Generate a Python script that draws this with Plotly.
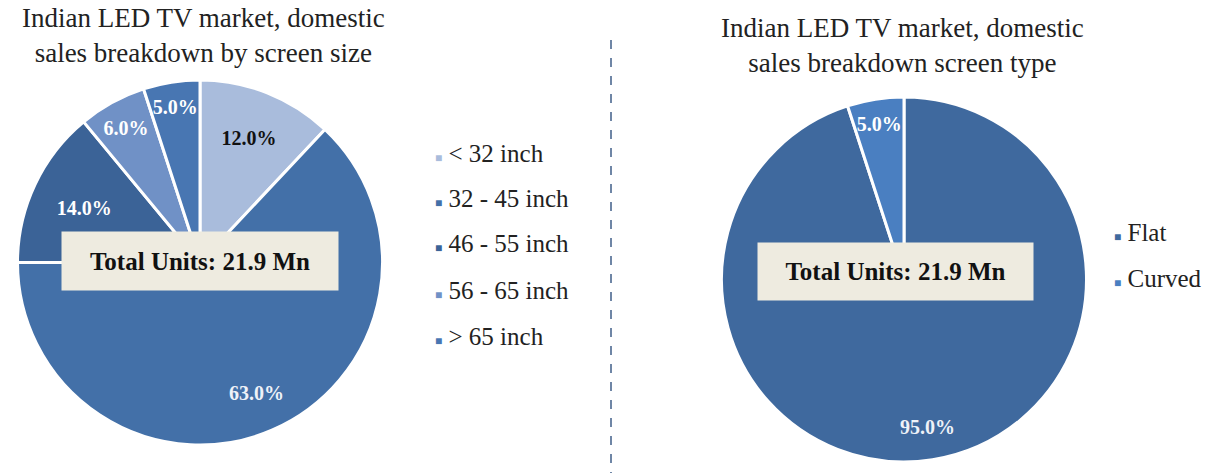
import math
import plotly.graph_objects as go

W, H = 1210, 473

# ---- data ----
size_labels = ["< 32 inch", "32 - 45 inch", "46 - 55 inch", "56 - 65 inch", "> 65 inch"]
size_values = [12.0, 63.0, 14.0, 6.0, 5.0]
size_colors = ["#a9bcdc", "#4370a8", "#3b6397", "#7091c6", "#4876b2"]
size_text_colors = ["#111111", "white", "white", "white", "white"]

type_labels = ["Flat", "Curved"]
type_values = [95.0, 5.0]
type_colors = ["#3f699e", "#4a7fc1"]
type_text_colors = ["white", "white"]

title_left = "Indian LED TV market, domestic<br>sales breakdown by screen size"
title_right = "Indian LED TV market, domestic<br>sales breakdown screen type"
total_text = "Total Units: 21.9 Mn"

FONT = "Liberation Serif, Times New Roman, serif"
LABEL_SIZE = 20


def px(x):
    return x / W


def py(y):
    return 1 - y / H


# pie geometry (pixels)
LEFT = dict(x0=17, x1=383, top=80, bottom=445)
RIGHT = dict(x0=720, x1=1088, top=97, bottom=462)


def templates(values, big=50):
    # large slices get their label as an annotation placed further out
    return ["" if v > big else "<b>%{percent:.1%}</b>" for v in values]


def big_labels(values, colors, geom, frac=0.8, big=50):
    cx = (geom["x0"] + geom["x1"]) / 2
    cy = (geom["top"] + geom["bottom"]) / 2
    r = min(geom["x1"] - geom["x0"], geom["bottom"] - geom["top"]) / 2
    total = sum(values)
    out = []
    cum = 0
    for v, c in zip(values, colors):
        mid = (cum + v / 2) / total * 2 * math.pi
        cum += v
        if v > big:
            x = cx + frac * r * math.sin(mid)
            y = cy - frac * r * math.cos(mid)
            out.append(dict(x=px(x), y=py(y), xref="paper", yref="paper",
                            text=f"<b>{v / total * 100:.1f}%</b>", showarrow=False,
                            font=dict(family=FONT, size=LABEL_SIZE, color=c),
                            xanchor="center", yanchor="middle"))
    return out


fig = go.Figure()

fig.add_trace(go.Pie(
    labels=size_labels, values=size_values, sort=False, direction="clockwise", rotation=0,
    marker=dict(colors=size_colors, line=dict(color="white", width=3)),
    texttemplate=templates(size_values), textposition="inside",
    insidetextorientation="horizontal",
    textfont=dict(family=FONT, size=LABEL_SIZE, color=size_text_colors),
    domain=dict(x=[px(LEFT["x0"]), px(LEFT["x1"])], y=[py(LEFT["bottom"]), py(LEFT["top"])]),
    showlegend=False, hoverinfo="label+percent",
))

fig.add_trace(go.Pie(
    labels=type_labels, values=type_values, sort=False, direction="clockwise", rotation=0,
    marker=dict(colors=type_colors, line=dict(color="white", width=3)),
    texttemplate=templates(type_values), textposition="inside",
    insidetextorientation="horizontal",
    textfont=dict(family=FONT, size=LABEL_SIZE, color=type_text_colors),
    domain=dict(x=[px(RIGHT["x0"]), px(RIGHT["x1"])], y=[py(RIGHT["bottom"]), py(RIGHT["top"])]),
    showlegend=False, hoverinfo="label+percent",
))

annotations = []
annotations += big_labels(size_values, ["#eef2f8" if c == "white" else c for c in size_text_colors], LEFT, frac=0.78)
annotations += big_labels(type_values, ["#eef2f8" if c == "white" else c for c in type_text_colors], RIGHT, frac=0.82)

# titles
annotations.append(dict(x=px(203), y=py(36), xref="paper", yref="paper", text=title_left,
                        showarrow=False, font=dict(family=FONT, size=27, color="#222222"),
                        xanchor="center", yanchor="middle", align="center"))
annotations.append(dict(x=px(902), y=py(46), xref="paper", yref="paper", text=title_right,
                        showarrow=False, font=dict(family=FONT, size=27, color="#222222"),
                        xanchor="center", yanchor="middle", align="center"))
# total boxes
annotations.append(dict(x=px(200), y=py(261), xref="paper", yref="paper", text="<b>" + total_text + "</b>",
                        showarrow=False, font=dict(family=FONT, size=25, color="#111111"),
                        bgcolor="#eeebe0", width=276, height=58, borderpad=0,
                        xanchor="center", yanchor="middle"))
annotations.append(dict(x=px(895), y=py(271), xref="paper", yref="paper", text="<b>" + total_text + "</b>",
                        showarrow=False, font=dict(family=FONT, size=25, color="#111111"),
                        bgcolor="#eeebe0", width=275, height=57, borderpad=0,
                        xanchor="center", yanchor="middle"))


def esc(s):
    return s.replace("<", "&lt;").replace(">", "&gt;")


# legends
leg_y_left = [153, 198, 244, 290, 336]
for lab, col, yy in zip(size_labels, size_colors, leg_y_left):
    annotations.append(dict(x=px(433), y=py(yy), xref="paper", yref="paper",
                            text=f"<span style='font-size:12px;color:{col}'>■</span> {esc(lab)}",
                            showarrow=False, font=dict(family=FONT, size=25, color="#222222"),
                            xanchor="left", yanchor="middle"))
leg_y_right = [232, 278]
for lab, col, yy in zip(type_labels, type_colors, leg_y_right):
    annotations.append(dict(x=px(1112), y=py(yy), xref="paper", yref="paper",
                            text=f"<span style='font-size:12px;color:{col}'>■</span> {esc(lab)}",
                            showarrow=False, font=dict(family=FONT, size=25, color="#222222"),
                            xanchor="left", yanchor="middle"))

shapes = [dict(type="line", xref="paper", yref="paper", x0=px(611), x1=px(611), y0=py(40), y1=0,
               line=dict(color="#6f86a6", width=2, dash="dash"))]

fig.update_layout(
    width=W, height=H, margin=dict(l=0, r=0, t=0, b=0),
    paper_bgcolor="white", plot_bgcolor="white",
    annotations=annotations, shapes=shapes,
    font=dict(family=FONT),
    uniformtext=dict(minsize=LABEL_SIZE, mode="show"),
)

fig.write_html("out.html")
